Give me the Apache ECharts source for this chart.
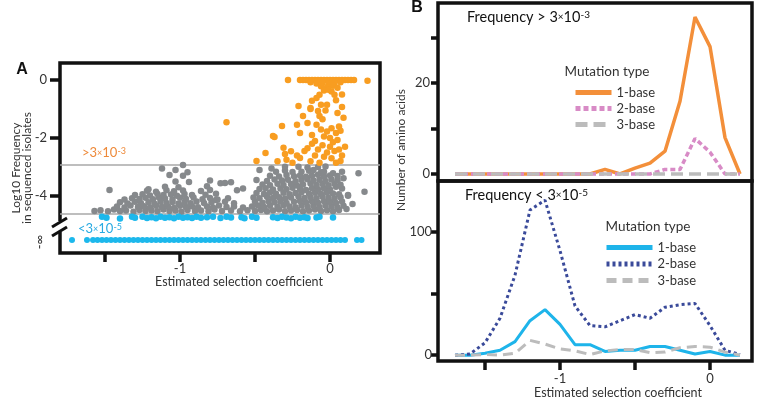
<!DOCTYPE html>
<html lang="en">
<head>
<meta charset="UTF-8">
<title>Selection coefficients and mutation frequency</title>
<script src="https://cdn.jsdelivr.net/npm/echarts@6.0.0/dist/echarts.min.js"></script>
<style>
  html, body { margin: 0; padding: 0; background: #fff; }
  #chart { width: 757px; height: 400px; }
</style>
</head>
<body>
<div id="chart"></div>
<script>
// ---- panel A: log10 frequency vs estimated selection coefficient ----
// y values are read on the picture's own axis (0, -2, -4 ticks)
const grayPoints = [
  [-1.57,-4.52],[-1.53,-4.49],[-1.48,-4.53],[-1.44,-4.47],[-1.4,-4.52],[-1.36,-4.5],[-1.31,-4.54],[-1.27,-4.48],
  [-1.23,-4.52],[-1.19,-4.5],[-1.15,-4.53],[-1.11,-4.47],[-1.07,-4.52],[-1.03,-4.5],[-0.99,-4.54],[-0.95,-4.48],
  [-0.9,-4.52],[-0.86,-4.5],[-0.81,-4.53],[-0.77,-4.47],[-0.72,-4.52],[-0.66,-4.5],[-0.6,-4.53],[-0.55,-4.49],
  [-1.42,-4.36],[-1.37,-4.4],[-1.33,-4.33],[-1.28,-4.38],[-1.24,-4.35],[-1.2,-4.4],[-1.16,-4.34],[-1.12,-4.38],
  [-1.08,-4.36],[-1.04,-4.41],[-1.0,-4.34],[-0.96,-4.38],[-0.92,-4.35],[-0.88,-4.39],[-0.82,-4.36],[-0.78,-4.4],
  [-0.74,-4.33],[-0.69,-4.38],[-0.64,-4.36],[-0.58,-4.4],
  [-1.4,-4.22],[-1.35,-4.26],[-1.3,-4.2],[-1.26,-4.25],[-1.21,-4.22],[-1.17,-4.27],[-1.13,-4.2],[-1.09,-4.24],
  [-1.05,-4.21],[-1.01,-4.26],[-0.97,-4.22],[-0.93,-4.25],[-0.89,-4.19],[-0.84,-4.24],[-0.79,-4.22],[-0.76,-4.14],
  [-0.7,-4.2],[-0.64,-4.25],
  [-1.37,-4.12],[-1.32,-4.08],[-1.27,-4.1],[-1.23,-4.06],[-1.18,-4.11],[-1.14,-4.05],[-1.1,-4.09],[-1.05,-4.12],
  [-1.0,-4.06],[-0.96,-4.1],[-0.91,-4.05],[-0.85,-4.11],[-0.8,-4.07],[-0.75,-4.12],[-0.68,-4.08],
  [-1.3,-3.97],[-1.25,-3.94],[-1.2,-3.98],[-1.15,-3.93],[-1.11,-3.97],[-1.06,-3.95],[-1.02,-3.99],[-0.97,-3.93],
  [-0.92,-3.97],[-0.83,-3.96],[-0.76,-3.92],
  [-1.47,-3.79],[-1.22,-3.82],[-1.16,-3.85],[-1.09,-3.8],[-1.04,-3.84],[-0.98,-3.81],[-0.86,-3.83],[-0.8,-3.79],
  [-0.62,-3.8],[-1.21,-3.77],[-1.1,-3.68],[-1.01,-3.7],[-0.82,-3.66],[-0.73,-3.56],[-0.66,-3.53],[-0.58,-3.74],
  [-1.03,-3.5],[-0.94,-3.52],[-0.8,-3.47],[-0.7,-3.55],[-1.07,-3.28],[-0.98,-3.3],
  [-1.12,-3.05],[-1.03,-3.1],[-0.95,-3.18],[-0.98,-2.93],
  [-0.5,-4.52],[-0.46,-4.48],[-0.42,-4.53],[-0.38,-4.5],[-0.34,-4.47],[-0.3,-4.53],[-0.26,-4.5],[-0.22,-4.48],
  [-0.18,-4.53],[-0.14,-4.5],[-0.1,-4.47],[-0.06,-4.52],[-0.02,-4.49],[0.02,-4.53],[0.06,-4.48],
  [-0.52,-4.36],[-0.48,-4.33],[-0.44,-4.38],[-0.4,-4.34],[-0.35,-4.37],[-0.31,-4.32],[-0.27,-4.36],[-0.23,-4.39],
  [-0.19,-4.33],[-0.15,-4.37],[-0.11,-4.34],[-0.07,-4.38],[-0.03,-4.33],[0.01,-4.36],[0.05,-4.39],[0.09,-4.34],
  [-0.5,-4.2],[-0.45,-4.23],[-0.41,-4.18],[-0.37,-4.22],[-0.33,-4.19],[-0.29,-4.24],[-0.24,-4.2],[-0.2,-4.17],
  [-0.16,-4.22],[-0.12,-4.19],[-0.08,-4.23],[-0.04,-4.18],[0.0,-4.21],[0.04,-4.24],[0.08,-4.19],
  [-0.51,-4.05],[-0.47,-4.08],[-0.42,-4.03],[-0.38,-4.07],[-0.34,-4.04],[-0.3,-4.09],[-0.26,-4.05],[-0.21,-4.02],
  [-0.17,-4.07],[-0.13,-4.04],[-0.09,-4.08],[-0.05,-4.03],[-0.01,-4.06],[0.03,-4.09],[0.07,-4.04],[0.12,-3.99],
  [-0.49,-3.9],[-0.44,-3.93],[-0.4,-3.88],[-0.36,-3.92],[-0.31,-3.89],[-0.27,-3.94],[-0.23,-3.9],[-0.19,-3.87],
  [-0.14,-3.92],[-0.1,-3.89],[-0.06,-3.93],[-0.02,-3.88],[0.02,-3.91],[0.06,-3.94],
  [-0.47,-3.76],[-0.43,-3.73],[-0.38,-3.78],[-0.33,-3.74],[-0.29,-3.77],[-0.25,-3.72],[-0.2,-3.76],[-0.16,-3.79],
  [-0.12,-3.73],[-0.08,-3.77],[-0.04,-3.74],[0.0,-3.78],[0.04,-3.68],[0.08,-3.74],
  [-0.45,-3.6],[-0.4,-3.63],[-0.35,-3.58],[-0.31,-3.62],[-0.26,-3.59],[-0.22,-3.64],[-0.18,-3.6],[-0.13,-3.57],
  [-0.09,-3.62],[-0.05,-3.59],[-0.01,-3.63],[0.03,-3.58],[0.07,-3.61],
  [-0.49,-3.45],[-0.42,-3.48],[-0.37,-3.43],[-0.32,-3.47],[-0.28,-3.44],[-0.23,-3.49],[-0.19,-3.45],[-0.15,-3.42],
  [-0.11,-3.47],[-0.07,-3.44],[-0.03,-3.48],[0.01,-3.43],[0.05,-3.46],[0.09,-3.39],
  [-0.4,-3.3],[-0.34,-3.33],[-0.29,-3.28],[-0.24,-3.32],[-0.2,-3.29],[-0.16,-3.34],[-0.12,-3.3],[-0.08,-3.27],
  [-0.04,-3.32],[0.0,-3.29],[0.05,-3.31],
  [-0.47,-3.1],[-0.36,-3.16],[-0.3,-3.12],[-0.25,-3.17],[-0.19,-3.16],[-0.14,-3.13],[-0.11,-3.1],[-0.06,-3.18],
  [-0.04,-3.16],[0.02,-3.22],[0.08,-3.16],
  [-0.39,-3.05],[-0.3,-2.99],[-0.21,-2.99],[-0.15,-3.02],[-0.08,-3.0],[-0.03,-2.98],
  [0.19,-3.22],[0.23,-3.85],[0.12,-3.97],[0.15,-4.28],[0.11,-4.45]
];

const orangePoints = [
  [-0.28,0],[-0.2,0],[-0.18,0],[-0.16,0],[-0.14,0],[-0.12,0],[-0.1,0],[-0.08,0],[-0.06,0],[-0.04,0],[-0.02,0],
  [0,0],[0.02,0],[0.04,0],[0.06,0],[0.08,0],[0.1,0],[0.12,0],[0.14,0],[0.16,0],[0.25,-0.03],
  [-0.13,-0.08],[-0.09,-0.12],[-0.05,-0.1],[-0.01,-0.14],[0.03,-0.1],[0.07,-0.08],[-0.06,-0.22],[-0.02,-0.25],
  [0.02,-0.2],[0.05,-0.27],[-0.04,-0.36],[0.01,-0.4],
  [-0.01,-0.34],[-0.07,-0.51],[0.03,-0.51],[-0.09,-0.62],[-0.12,-0.72],[-0.21,-0.9],[-0.06,-0.85],[-0.02,-0.85],
  [-0.13,-0.97],[0.08,-0.93],[0.05,-1.14],[-0.08,-1.07],[-0.07,-1.24],[-0.18,-1.24],[-0.22,-1.54],[-0.15,-1.48],
  [-0.32,-1.59],[-0.09,-1.54],[-0.2,-1.83],[-0.06,-1.71],[0.01,-1.66],[-0.02,-1.78],[0.04,-1.83],[-0.38,-1.93],
  [-0.1,-2.1],[0.05,-2.07],[-0.31,-2.34],[-0.43,-2.52],[-0.26,-2.46],[-0.17,-2.45],[-0.49,-2.79],[-0.29,-2.75],
  [-0.2,-2.69],[0.07,-2.79],[-0.69,-1.46],[-0.37,-1.97],[-0.13,-1.0],
  [-0.12,-2.2],[-0.05,-2.25],[0.0,-2.3],[0.02,-2.15],[-0.15,-2.35],[-0.08,-2.4],[-0.02,-2.5],[0.03,-2.45],
  [0.06,-2.4],[-0.1,-2.6],[-0.04,-2.65],[0.01,-2.7],[-0.13,-2.8],[-0.07,-2.85],[0.04,-2.85],[-0.22,-2.6],
  [-0.25,-2.85],[-0.35,-2.8],[-0.3,-2.55],[0.08,-2.6],[0.1,-2.3],[-0.04,-1.95],[0.0,-2.0],[-0.12,-1.9],
  [0.06,-1.6],[0.09,-1.3],[0.07,-1.75],[-0.05,-1.35],[-0.03,-1.05],[0.04,-0.7],[0.08,-0.5]
];

const cyanPoints = [
  [-1.52,-4.72],[-1.49,-4.75],[-1.4,-4.78],[-1.32,-4.72],[-1.3,-4.75],[-1.25,-4.72],[-1.22,-4.76],[-1.19,-4.73],
  [-1.16,-4.77],[-1.13,-4.72],[-1.1,-4.75],[-1.07,-4.73],[-1.04,-4.77],[-1.01,-4.72],[-0.98,-4.75],[-0.95,-4.73],
  [-0.92,-4.76],[-0.89,-4.72],[-0.86,-4.75],[-0.82,-4.73],[-0.78,-4.72],[-0.73,-4.76],[-0.69,-4.72],[-0.66,-4.74],
  [-0.59,-4.73],[-0.57,-4.77],[-0.52,-4.72],[-0.49,-4.75],[-0.38,-4.73],[-0.35,-4.76],[-0.32,-4.72],[-0.29,-4.74],
  [-0.26,-4.77],[-0.23,-4.72],[-0.2,-4.75],[-0.17,-4.73],[-0.15,-4.76],[-0.09,-4.74],[-0.07,-4.72],[0.02,-4.74]
];

// frequency zero (log = -infinity), drawn on the broken axis row
const negInfRow = -5.52;
const negInfX = [
  -1.72,-1.62,-1.58,-1.55,-1.52,-1.49,-1.46,-1.43,-1.4,-1.37,-1.34,-1.31,-1.28,-1.25,-1.22,-1.19,-1.16,-1.13,
  -1.1,-1.07,-1.04,-1.01,-0.98,-0.95,-0.92,-0.89,-0.86,-0.83,-0.8,-0.77,-0.74,-0.71,-0.68,-0.65,-0.62,-0.59,
  -0.56,-0.53,-0.5,-0.47,-0.44,-0.41,-0.38,-0.35,-0.32,-0.29,-0.26,-0.23,-0.2,-0.17,-0.14,-0.11,-0.08,-0.05,
  -0.02,0.01,0.04,0.07,0.1,0.18,0.21
];

// threshold lines (3e-3 and 3e-5) on the same axis
const thresholds = [-2.93, -4.62];

// ---- panel B: histograms, bins of 0.1 ----
const binCenters = [-1.7,-1.6,-1.5,-1.4,-1.3,-1.2,-1.1,-1.0,-0.9,-0.8,-0.7,-0.6,-0.5,-0.4,-0.3,-0.2,-0.1,0,0.1,0.2];
const highOneBase   = [0,0,0,0,0,0,0,0,0,0,1,0,1.3,2.4,5,16,34.5,28,8,0];
const highTwoBase   = [0,0,0,0,0,0,0,0,0,0,0,0,0,0,1,1,7.8,4.8,0,0];
const highThreeBase = [0,0,0,0,0,0,0,0,0,0,0,0,0,0,0,0,0,0,0,0];
const lowOneBase    = [0,0,1.5,4,11,28,37,25,8.5,8.5,3,4,4,7,7,4,1,3,0,0];
const lowTwoBase    = [0,1,10,30,65,118,126,85,40,24,23,28,33,30,39,41,42,24,4,0.5];
const lowThreeBase  = [0,0,0.5,0,1.5,12,9,5,3.5,0.5,3.5,4.5,4.5,2,2.5,6,7,6.5,2.5,0];

const FONT = 'Lato';
const INK = '#333';
const pairs = arr => binCenters.map((x, i) => [x, arr[i]]);

const chart = echarts.init(document.getElementById('chart'), null, { renderer: 'canvas' });

const frame = { show: true, borderColor: '#111', borderWidth: 3.5 };
const tickStyle = { lineStyle: { color: '#111', width: 3.5 } };
const labelStyle = { fontSize: 13, color: INK, fontFamily: FONT };
const noLine = { show: false, onZero: false };

function lineSeries (name, axis, arr, color, width, type) {
  return {
    name: name, type: 'line', xAxisIndex: axis, yAxisIndex: axis,
    data: pairs(arr), symbol: 'none', smooth: false,
    lineStyle: { color: color, width: width, type: type }, itemStyle: { color: color }
  };
}

chart.setOption({
  animation: false,
  backgroundColor: '#fff',
  grid: [
    Object.assign({ left: 60, top: 63, width: 320, height: 190 }, frame),
    Object.assign({ left: 438, top: 3, width: 314, height: 178 }, frame),
    Object.assign({ left: 438, top: 181, width: 314, height: 182 }, frame)
  ],
  xAxis: [
    {
      gridIndex: 0, type: 'value', min: -1.8, max: 0.3333,
      axisLine: noLine, splitLine: { show: false },
      axisTick: Object.assign({ customValues: [-1.5, -1, -0.5, 0], length: 9 }, tickStyle),
      axisLabel: Object.assign({ customValues: [-1, 0], margin: 9 }, labelStyle),
      name: 'Estimated selection coefficient', nameLocation: 'middle', nameGap: 22,
      nameTextStyle: { fontSize: 12.5, color: INK, fontFamily: FONT, padding: [0, 0, 0, 38] }
    },
    {
      gridIndex: 1, type: 'value', min: -1.8133, max: 0.28,
      axisLine: noLine, splitLine: { show: false }, axisTick: { show: false }, axisLabel: { show: false }
    },
    {
      gridIndex: 2, type: 'value', min: -1.8133, max: 0.28,
      axisLine: noLine, splitLine: { show: false },
      axisTick: Object.assign({ customValues: [-1.5, -1, -0.5, 0], length: 9 }, tickStyle),
      axisLabel: Object.assign({ customValues: [-1, 0], margin: 11 }, labelStyle),
      name: 'Estimated selection coefficient', nameLocation: 'middle', nameGap: 22,
      nameTextStyle: { fontSize: 12.5, color: INK, fontFamily: FONT, padding: [0, 0, 0, 46] }
    }
  ],
  yAxis: [
    {
      gridIndex: 0, type: 'value', min: -5.966, max: 0.586,
      axisLine: noLine, splitLine: { show: false },
      axisTick: Object.assign({ customValues: [0, -2, -4], length: 10 }, tickStyle),
      axisLabel: Object.assign({ customValues: [0, -2, -4], margin: 13 }, labelStyle)
    },
    {
      gridIndex: 1, type: 'value', min: -1.54, max: 37.58,
      axisLine: noLine, splitLine: { show: false },
      axisTick: Object.assign({ customValues: [0, 10, 20, 30], length: 7 }, tickStyle),
      axisLabel: Object.assign({ customValues: [0, 20], margin: 8 }, labelStyle)
    },
    {
      gridIndex: 2, type: 'value', min: -4.83, max: 141.6,
      axisLine: noLine, splitLine: { show: false },
      axisTick: Object.assign({ customValues: [0, 50, 100], length: 7 }, tickStyle),
      axisLabel: Object.assign({ customValues: [0, 100], margin: 6 }, labelStyle)
    }
  ],
  legend: [
    {
      data: ['top 1-base', 'top 2-base', 'top 3-base'],
      orient: 'vertical', left: 568, top: 81, itemWidth: 36, itemHeight: 14, itemGap: 3,
      selectedMode: false, formatter: n => n.slice(4),
      lineStyle: { width: 5 }, itemStyle: { opacity: 0 },
      textStyle: { fontSize: 13, color: INK, fontFamily: FONT }
    },
    {
      data: ['low 1-base', 'low 2-base', 'low 3-base'],
      orient: 'vertical', left: 599, top: 236, itemWidth: 46, itemHeight: 14, itemGap: 3.5,
      selectedMode: false, formatter: n => n.slice(4),
      lineStyle: { width: 5 }, itemStyle: { opacity: 0 },
      textStyle: { fontSize: 13, color: INK, fontFamily: FONT }
    }
  ],
  series: [
    {
      name: 'gray', type: 'scatter', xAxisIndex: 0, yAxisIndex: 0, data: grayPoints,
      symbolSize: 6.5, itemStyle: { color: '#86898c', opacity: 1 },
      markLine: {
        silent: true, symbol: 'none', z: 1, label: { show: false },
        lineStyle: { color: '#a9a9a9', width: 1.5, type: 'solid' },
        data: thresholds.map(t => ({ yAxis: t }))
      }
    },
    {
      name: 'orange', type: 'scatter', xAxisIndex: 0, yAxisIndex: 0, data: orangePoints,
      symbolSize: 6.5, itemStyle: { color: '#f89d21', opacity: 1 }
    },
    {
      name: 'cyan', type: 'scatter', xAxisIndex: 0, yAxisIndex: 0, data: cyanPoints,
      symbolSize: 6.5, itemStyle: { color: '#1cb8ec', opacity: 1 }
    },
    {
      name: 'cyanInf', type: 'scatter', xAxisIndex: 0, yAxisIndex: 0,
      data: negInfX.map(x => [x, negInfRow]),
      symbolSize: 6, itemStyle: { color: '#1cb8ec', opacity: 1 }
    },
    lineSeries('top 1-base', 1, highOneBase, '#f38f3a', 3.5, 'solid'),
    lineSeries('top 2-base', 1, highTwoBase, '#d88bc6', 3.5, [5, 3]),
    lineSeries('top 3-base', 1, highThreeBase, '#bcbcbc', 3.5, [12, 6]),
    lineSeries('low 1-base', 2, lowOneBase, '#1eb4ea', 3, 'solid'),
    lineSeries('low 2-base', 2, lowTwoBase, '#3a4a9a', 3, [3, 3]),
    lineSeries('low 3-base', 2, lowThreeBase, '#bcbcbc', 3, [10, 6])
  ],
  graphic: [
    { type: 'text', x: 22, y: 70, z: 100,
      style: { text: 'A', fontSize: 16, fontWeight: 'bold', fontFamily: 'Liberation Sans', fill: '#111',
        align: 'center', verticalAlign: 'middle', textAlign: 'center', textVerticalAlign: 'middle' } },
    { type: 'text', x: 417, y: 8, z: 100,
      style: { text: 'B', fontSize: 16, fontWeight: 'bold', fontFamily: 'Liberation Sans', fill: '#111',
        align: 'center', verticalAlign: 'middle', textAlign: 'center', textVerticalAlign: 'middle' } },
    // y title of panel A
    { type: 'text', x: 22, y: 168, rotation: Math.PI / 2, z: 100,
      style: { text: 'Log10 Frequency\nin sequenced isolates', fontSize: 12, lineHeight: 11, fontFamily: FONT, fill: INK,
        align: 'center', verticalAlign: 'middle', textAlign: 'center', textVerticalAlign: 'middle' } },
    // broken axis
    { type: 'rect', z: 100, shape: { x: 53, y: 221, width: 14, height: 11 }, style: { fill: '#fff' } },
    { type: 'line', z: 101, shape: { x1: 52, y1: 227, x2: 67, y2: 218 }, style: { stroke: '#111', lineWidth: 3 } },
    { type: 'line', z: 101, shape: { x1: 52, y1: 236, x2: 67, y2: 227 }, style: { stroke: '#111', lineWidth: 3 } },
    { type: 'text', x: 40, y: 242, rotation: Math.PI / 2, z: 100,
      style: { text: '-∞', fontSize: 13, fontFamily: FONT, fill: INK,
        align: 'center', verticalAlign: 'middle', textAlign: 'center', textVerticalAlign: 'middle' } },
    // threshold annotations
    { type: 'text', x: 82, y: 153, z: 100,
      style: { text: '{n|>3}{x|×}{n|10}{s|-3}', fill: '#ee8a3a', align: 'left', verticalAlign: 'middle',
        textAlign: 'left', textVerticalAlign: 'middle',
        rich: { n: { fontSize: 13, fontFamily: FONT, fill: '#ee8a3a' },
                x: { fontSize: 9, fontFamily: FONT, fill: '#ee8a3a' },
                s: { fontSize: 9, fontFamily: FONT, fill: '#ee8a3a', verticalAlign: 'top' } } } },
    { type: 'text', x: 78, y: 229, z: 100,
      style: { text: '{n|<3}{x|×}{n|10}{s|-5}', fill: '#29abe2', align: 'left', verticalAlign: 'middle',
        textAlign: 'left', textVerticalAlign: 'middle',
        rich: { n: { fontSize: 13, fontFamily: FONT, fill: '#29abe2' },
                x: { fontSize: 9, fontFamily: FONT, fill: '#29abe2' },
                s: { fontSize: 9, fontFamily: FONT, fill: '#29abe2', verticalAlign: 'top' } } } },
    // panel B titles
    { type: 'text', x: 467, y: 17, z: 100,
      style: { text: '{n|Frequency > 3}{x|×}{n|10}{s|-3}', fill: '#111', align: 'left', verticalAlign: 'middle',
        textAlign: 'left', textVerticalAlign: 'middle',
        rich: { n: { fontSize: 14.5, fontFamily: FONT, fill: '#111' },
                x: { fontSize: 10, fontFamily: FONT, fill: '#111' },
                s: { fontSize: 10, fontFamily: FONT, fill: '#111', verticalAlign: 'top' } } } },
    { type: 'text', x: 465, y: 195, z: 100,
      style: { text: '{n|Frequency < 3}{x|×}{n|10}{s|-5}', fill: '#111', align: 'left', verticalAlign: 'middle',
        textAlign: 'left', textVerticalAlign: 'middle',
        rich: { n: { fontSize: 14.5, fontFamily: FONT, fill: '#111' },
                x: { fontSize: 10, fontFamily: FONT, fill: '#111' },
                s: { fontSize: 10, fontFamily: FONT, fill: '#111', verticalAlign: 'top' } } } },
    { type: 'text', x: 607, y: 72, z: 100,
      style: { text: 'Mutation type', fontSize: 13.5, fontFamily: FONT, fill: INK,
        align: 'center', verticalAlign: 'middle', textAlign: 'center', textVerticalAlign: 'middle' } },
    { type: 'text', x: 648, y: 227, z: 100,
      style: { text: 'Mutation type', fontSize: 13.5, fontFamily: FONT, fill: INK,
        align: 'center', verticalAlign: 'middle', textAlign: 'center', textVerticalAlign: 'middle' } },
    { type: 'text', x: 401, y: 150, rotation: Math.PI / 2, z: 100,
      style: { text: 'Number of amino acids', fontSize: 12, fontFamily: FONT, fill: INK,
        align: 'center', verticalAlign: 'middle', textAlign: 'center', textVerticalAlign: 'middle' } }
  ]
});
</script>
</body>
</html>
